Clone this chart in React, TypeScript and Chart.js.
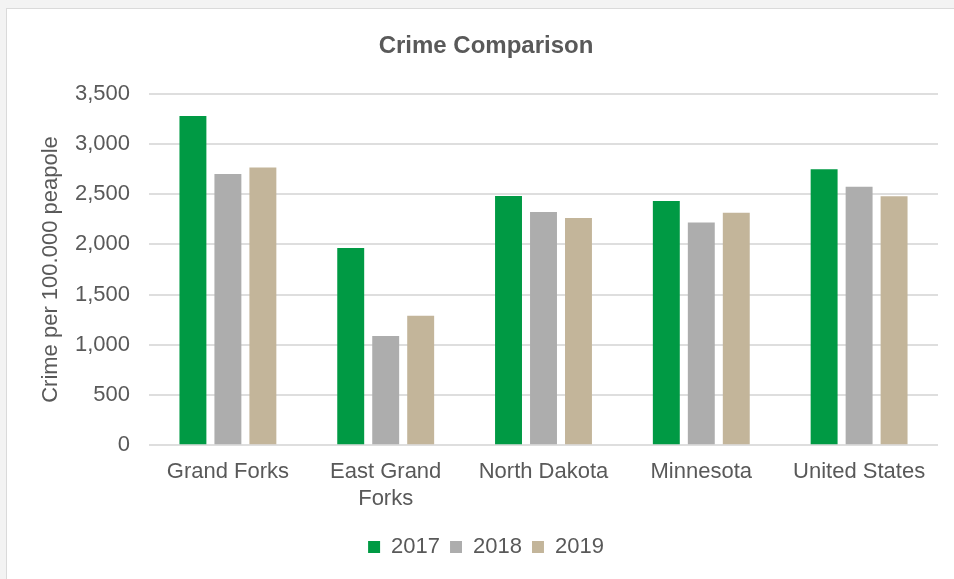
import React, { useEffect, useRef } from "react";
import { Chart, registerables } from "chart.js";

Chart.register(...registerables);

const categories: (string | string[])[] = [
  "Grand Forks",
  ["East Grand", "Forks"],
  "North Dakota",
  "Minnesota",
  "United States",
];
const series2017 = [3280, 1965, 2483, 2433, 2749];
const series2018 = [2702, 1087, 2323, 2217, 2573];
const series2019 = [2765, 1290, 2264, 2316, 2480];
const yTicks = [0, 500, 1000, 1500, 2000, 2500, 3000, 3500];

const FONT = "'Liberation Sans', Arial, sans-serif";
const TEXT = "#595959";

export default function App() {
  const ref = useRef<HTMLCanvasElement | null>(null);

  useEffect(() => {
    if (!ref.current) return;
    const chart = new Chart(ref.current, {
      type: "bar",
      data: {
        labels: categories,
        datasets: [
          { label: "2017", data: series2017, backgroundColor: "#009a44" },
          { label: "2018", data: series2018, backgroundColor: "#adadad" },
          { label: "2019", data: series2019, backgroundColor: "#c3b59a" },
        ],
      },
      options: {
        responsive: false,
        animation: false,
        datasets: {
          bar: { categoryPercentage: 0.665, barPercentage: 0.77 },
        },
        layout: { padding: { left: 26, right: 16, top: 0, bottom: 11 } },
        plugins: {
          title: {
            display: true,
            text: "Crime Comparison",
            color: TEXT,
            font: { family: FONT, size: 24, weight: "bold" },
            padding: { top: 22, bottom: 33 },
          },
          legend: {
            position: "bottom",
            labels: {
              color: TEXT,
              font: { family: FONT, size: 22 },
              boxWidth: 12,
              boxHeight: 12,
              padding: 10,
            },
          },
          tooltip: { enabled: false },
        },
        scales: {
          x: {
            grid: { display: false, drawTicks: false },
            border: { display: false },
            ticks: {
              color: TEXT,
              font: { family: FONT, size: 22 },
              padding: 14,
              maxRotation: 0,
              autoSkip: false,
            },
          },
          y: {
            min: 0,
            max: 3500,
            afterBuildTicks: (s: any) => {
              s.ticks = yTicks.map((v) => ({ value: v }));
            },
            grid: { color: "#dedede", lineWidth: 2, drawTicks: false },
            border: { display: false },
            ticks: {
              color: TEXT,
              font: { family: FONT, size: 22 },
              padding: 19,
              callback: (v: any) => Number(v).toLocaleString("en-US"),
            },
            title: {
              display: true,
              text: "Crime per 100.000 peapole",
              color: TEXT,
              font: { family: FONT, size: 22 },
              padding: { top: 4, bottom: 4 },
            },
            afterFit: (s: any) => {
              s.width = 115;
            },
          },
        },
      },
    });
    return () => chart.destroy();
  }, []);

  return (
    <div style={{ position: "fixed", inset: 0, background: "#f3f3f3", overflow: "hidden" }}>
      <div
        style={{
          position: "absolute",
          left: 6,
          top: 8,
          width: 970,
          height: 600,
          background: "#ffffff",
          border: "1px solid #dadada",
          boxSizing: "border-box",
        }}
      />
      <div style={{ position: "absolute", left: 8, top: 10, width: 946, height: 569 }}>
        <canvas ref={ref} width={946} height={569} style={{ width: 946, height: 569, display: "block" }} />
      </div>
    </div>
  );
}
